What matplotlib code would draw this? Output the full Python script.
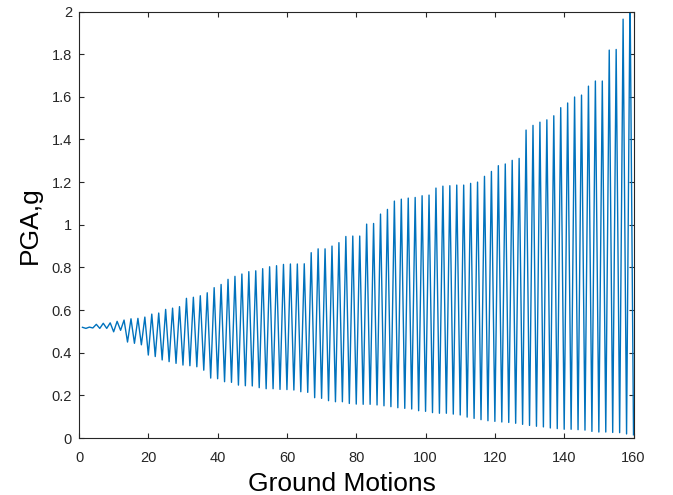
import matplotlib
matplotlib.use("Agg")
import matplotlib.pyplot as plt
import numpy as np

# ---- data ----
start_value = 0.519  # ground motion 1

# values at odd ground motions 3, 5, ..., 159 (upper envelope)
peak_values = [
    0.520, 0.533, 0.538, 0.540, 0.547, 0.553, 0.559, 0.561, 0.567, 0.581,
    0.586, 0.603, 0.609, 0.616, 0.655, 0.660, 0.667, 0.681, 0.705, 0.720,
    0.744, 0.758, 0.769, 0.780, 0.784, 0.794, 0.803, 0.808, 0.814, 0.816,
    0.816, 0.817, 0.869, 0.887, 0.887, 0.900, 0.916, 0.945, 0.947, 0.947,
    1.003, 1.006, 1.050, 1.072, 1.111, 1.120, 1.125, 1.128, 1.136, 1.139,
    1.172, 1.181, 1.183, 1.186, 1.186, 1.194, 1.200, 1.227, 1.250, 1.277,
    1.285, 1.302, 1.311, 1.444, 1.466, 1.481, 1.492, 1.511, 1.549, 1.571,
    1.599, 1.608, 1.650, 1.674, 1.674, 1.819, 1.822, 1.964, 2.100,
]

# values at even ground motions 2, 4, ..., 160 (lower envelope)
trough_values = [
    0.514, 0.516, 0.514, 0.514, 0.498, 0.505, 0.450, 0.444, 0.437, 0.389,
    0.382, 0.366, 0.358, 0.350, 0.342, 0.339, 0.334, 0.318, 0.281, 0.278,
    0.264, 0.261, 0.248, 0.245, 0.244, 0.236, 0.231, 0.231, 0.228, 0.227,
    0.225, 0.217, 0.214, 0.189, 0.186, 0.175, 0.170, 0.170, 0.162, 0.159,
    0.158, 0.158, 0.155, 0.151, 0.147, 0.142, 0.139, 0.136, 0.128, 0.125,
    0.119, 0.116, 0.116, 0.112, 0.108, 0.098, 0.092, 0.086, 0.081, 0.078,
    0.075, 0.073, 0.069, 0.064, 0.059, 0.055, 0.052, 0.047, 0.044, 0.041,
    0.041, 0.039, 0.037, 0.031, 0.028, 0.028, 0.026, 0.025, 0.019, 0.015,
]

x_ticks = [0, 20, 40, 60, 80, 100, 120, 140, 160]
y_ticks = [0, 0.2, 0.4, 0.6, 0.8, 1.0, 1.2, 1.4, 1.6, 1.8, 2.0]
y_tick_labels = ["0", "0.2", "0.4", "0.6", "0.8", "1", "1.2", "1.4", "1.6", "1.8", "2"]
x_label = "Ground Motions"
y_label = "PGA,g"

# ---- assemble series (1..160) ----
n = 1 + len(peak_values) + len(trough_values)
pga = np.empty(n)
pga[0] = start_value
pga[1::2] = trough_values   # motions 2,4,...
pga[2::2] = peak_values     # motions 3,5,...
motions = np.arange(1, n + 1)

plt.rcParams["font.family"] = ["Liberation Sans", "DejaVu Sans"]
axis_col = "#262626"

fig = plt.figure(figsize=(6.73, 4.95), dpi=100)
ax = fig.add_axes([79 / 673, (495 - 438) / 495, (633.5 - 79) / 673, (438 - 11.5) / 495])

ax.plot(motions, pga, color="#0072BD", linewidth=1.0)

ax.set_xlim(0, 160)
ax.set_ylim(0, 2)
ax.set_xticks(x_ticks)
ax.set_yticks(y_ticks)
ax.set_yticklabels(y_tick_labels)

ax.tick_params(direction="in", length=3.8, width=0.8, top=True, right=True,
               labelsize=10.5, colors=axis_col)
ax.tick_params(axis="x", pad=9)
ax.tick_params(axis="y", pad=5)
for s in ax.spines.values():
    s.set_color(axis_col)
    s.set_linewidth(0.8)

ax.set_xlabel(x_label, fontsize=19, color="black", va="center")
ax.xaxis.set_label_coords(0.4745, -0.108)
ax.set_ylabel(y_label, fontsize=19, color="black", va="center")
ax.yaxis.set_label_coords(-0.088, 0.5)

fig.savefig("out.png", dpi=100)
